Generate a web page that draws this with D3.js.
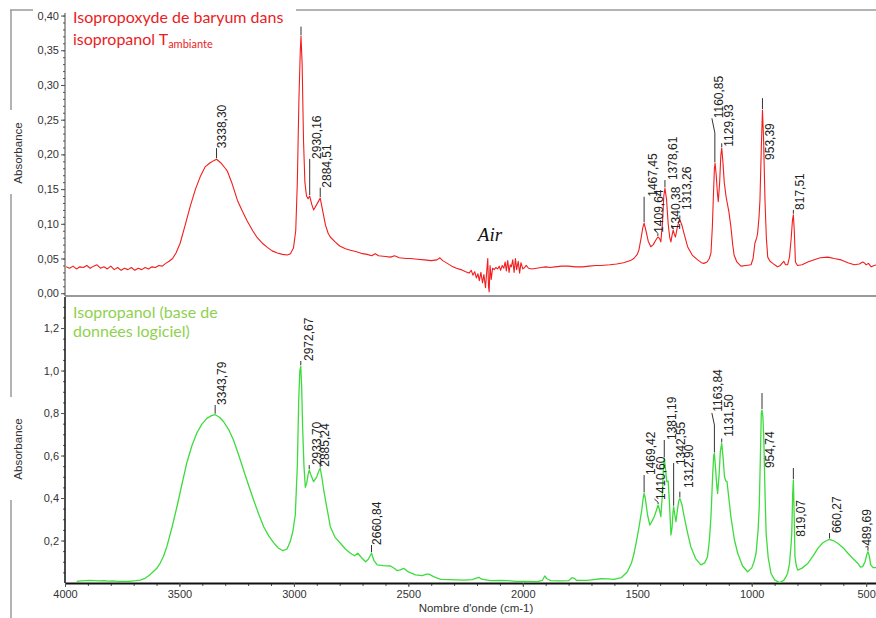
<!DOCTYPE html>
<html><head><meta charset="utf-8">
<script src="https://cdn.jsdelivr.net/npm/d3@7"></script>
<style>
html,body{margin:0;padding:0;background:#fff;}
svg{display:block;}
.tl{font-family:Arial,"Liberation Sans",sans-serif;font-size:11px;fill:#333;}
.pk{font-family:Arial,"Liberation Sans",sans-serif;font-size:12px;fill:#222;}
.ttl{font-family:Lato,"Open Sans",sans-serif;font-size:16px;}
</style></head>
<body>
<svg id="c" width="876" height="618"></svg>
<script>
// ---------- DATA ----------
const xTickValues = [4000, 3500, 3000, 2500, 2000, 1500, 1000, 500];
const topYTickValues = [0, 0.05, 0.10, 0.15, 0.20, 0.25, 0.30, 0.35, 0.40];
const bottomYTickValues = [0.2, 0.4, 0.6, 0.8, 1.0, 1.2];

// Isopropoxyde de baryum dans isopropanol (wavenumber, absorbance)
const bariumSpectrum = [
[3995,0.038],[3980,0.036],[3965,0.039],[3950,0.035],[3935,0.038],[3920,0.037],[3905,0.040],[3890,0.036],
[3875,0.039],[3860,0.041],[3845,0.036],[3830,0.038],[3815,0.035],[3800,0.039],[3785,0.034],[3770,0.037],
[3755,0.033],[3740,0.036],[3725,0.034],[3710,0.037],[3695,0.033],[3680,0.036],[3665,0.034],[3650,0.037],
[3635,0.035],[3620,0.038],[3605,0.037],[3590,0.040],[3575,0.039],[3560,0.043],[3545,0.046],[3530,0.050],
[3515,0.058],[3497,0.072],[3475,0.098],[3453,0.125],[3430,0.150],[3409,0.168],[3388,0.182],[3366,0.188],
[3350,0.191],[3338,0.193],[3320,0.188],[3300,0.180],[3291,0.176],[3270,0.158],[3247,0.134],[3225,0.118],
[3204,0.104],[3180,0.090],[3160,0.080],[3138,0.072],[3116,0.066],[3095,0.061],[3072,0.058],[3050,0.056],
[3029,0.055],[3015,0.057],[3002,0.065],[2992,0.090],[2985,0.160],[2978,0.280],[2972,0.350],[2969,0.370],
[2964,0.330],[2958,0.220],[2952,0.160],[2945,0.140],[2938,0.136],[2931,0.140],[2922,0.128],[2914,0.120],
[2900,0.128],[2885,0.137],[2875,0.120],[2862,0.098],[2850,0.086],[2841,0.081],[2820,0.074],[2800,0.068],
[2775,0.064],[2753,0.062],[2730,0.060],[2700,0.057],[2680,0.056],[2660,0.054],[2645,0.057],[2630,0.054],
[2600,0.053],[2578,0.052],[2560,0.054],[2540,0.051],[2510,0.050],[2491,0.050],[2460,0.049],[2430,0.048],
[2400,0.047],[2375,0.048],[2362,0.051],[2350,0.047],[2330,0.043],[2310,0.039],[2290,0.036],[2270,0.034],
[2250,0.031],[2235,0.029],[2225,0.033],[2218,0.026],[2210,0.031],[2203,0.022],[2196,0.028],[2190,0.018],
[2183,0.030],[2176,0.015],[2170,0.027],[2163,0.008],[2157,0.034],[2153,0.050],[2150,0.010],[2147,0.002],
[2143,0.040],[2138,0.020],[2132,0.036],[2125,0.034],[2118,0.037],[2110,0.035],[2103,0.039],[2097,0.033],
[2090,0.040],[2083,0.036],[2077,0.045],[2072,0.032],[2066,0.047],[2060,0.030],[2055,0.041],[2050,0.038],
[2044,0.048],[2038,0.030],[2032,0.050],[2027,0.034],[2020,0.046],[2014,0.029],[2008,0.044],[2000,0.035],
[1992,0.037],[1985,0.040],[1975,0.036],[1960,0.035],[1940,0.036],[1920,0.037],[1900,0.038],[1880,0.037],
[1860,0.038],[1830,0.039],[1800,0.039],[1770,0.038],[1740,0.038],[1710,0.039],[1680,0.040],[1659,0.040],
[1620,0.041],[1590,0.042],[1560,0.044],[1530,0.047],[1515,0.050],[1500,0.056],[1493,0.062],[1484,0.078],
[1476,0.094],[1470,0.101],[1462,0.090],[1452,0.075],[1441,0.067],[1430,0.070],[1420,0.076],[1410,0.081],
[1403,0.079],[1397,0.074],[1390,0.100],[1384,0.140],[1379,0.151],[1372,0.135],[1365,0.100],[1358,0.080],
[1353,0.074],[1347,0.085],[1343,0.091],[1338,0.085],[1333,0.081],[1325,0.095],[1318,0.104],[1314,0.106],
[1305,0.098],[1295,0.085],[1280,0.067],[1260,0.055],[1236,0.048],[1220,0.044],[1209,0.043],[1195,0.045],
[1185,0.050],[1178,0.058],[1172,0.095],[1168,0.134],[1163,0.180],[1160,0.187],[1155,0.170],[1150,0.145],
[1146,0.132],[1140,0.160],[1135,0.198],[1131,0.209],[1126,0.190],[1120,0.160],[1112,0.139],[1100,0.118],
[1091,0.096],[1083,0.070],[1077,0.055],[1065,0.045],[1047,0.039],[1025,0.040],[1003,0.041],[994,0.050],
[986,0.072],[978,0.080],[974,0.087],[968,0.110],[964,0.134],[958,0.210],[953,0.264],[948,0.220],
[942,0.134],[936,0.080],[930,0.052],[920,0.046],[908,0.043],[895,0.040],[887,0.038],[875,0.040],
[865,0.044],[860,0.046],[852,0.041],[843,0.041],[835,0.052],[828,0.077],[822,0.105],[818,0.113],
[814,0.090],[809,0.045],[800,0.040],[780,0.041],[755,0.045],[730,0.048],[700,0.051],[667,0.052],
[640,0.050],[609,0.048],[580,0.044],[552,0.041],[530,0.042],[515,0.045],[509,0.044],[500,0.041],
[490,0.043],[478,0.038],[465,0.040],[452,0.041]
];

// Isopropanol (base de données logiciel)
const isopropanolSpectrum = [
[3949,0.008],[3930,0.010],[3910,0.011],[3890,0.012],[3870,0.011],[3850,0.010],[3830,0.011],[3810,0.009],
[3790,0.010],[3770,0.008],[3750,0.008],[3730,0.007],[3710,0.009],[3690,0.011],[3672,0.014],[3650,0.022],
[3630,0.038],[3615,0.053],[3600,0.068],[3584,0.094],[3570,0.125],[3555,0.171],[3533,0.260],[3511,0.359],
[3490,0.460],[3468,0.565],[3446,0.645],[3424,0.706],[3402,0.748],[3380,0.775],[3360,0.788],[3344,0.792],
[3325,0.780],[3307,0.759],[3285,0.722],[3264,0.673],[3242,0.605],[3220,0.532],[3198,0.460],[3176,0.391],
[3154,0.325],[3132,0.265],[3110,0.222],[3089,0.190],[3068,0.165],[3048,0.152],[3030,0.160],[3016,0.195],
[3005,0.240],[2994,0.320],[2985,0.550],[2979,0.860],[2974,1.000],[2970,1.020],[2966,0.920],[2962,0.735],
[2956,0.550],[2950,0.450],[2944,0.470],[2938,0.510],[2933,0.532],[2926,0.510],[2914,0.477],[2900,0.500],
[2890,0.530],[2885,0.540],[2878,0.500],[2870,0.440],[2862,0.390],[2850,0.320],[2841,0.265],[2820,0.215],
[2797,0.187],[2775,0.160],[2753,0.140],[2735,0.128],[2721,0.140],[2705,0.120],[2687,0.100],[2675,0.112],
[2661,0.140],[2650,0.105],[2636,0.085],[2610,0.082],[2578,0.080],[2560,0.068],[2549,0.058],[2535,0.062],
[2520,0.069],[2500,0.052],[2469,0.038],[2440,0.035],[2420,0.042],[2410,0.042],[2390,0.030],[2359,0.017],
[2320,0.016],[2290,0.015],[2257,0.014],[2220,0.016],[2200,0.024],[2192,0.027],[2180,0.018],[2141,0.011],
[2100,0.012],[2068,0.011],[2030,0.008],[1990,0.007],[1936,0.006],[1915,0.012],[1904,0.033],[1895,0.020],
[1878,0.011],[1840,0.010],[1800,0.011],[1785,0.025],[1775,0.022],[1765,0.012],[1720,0.012],[1690,0.016],
[1659,0.020],[1630,0.019],[1602,0.017],[1570,0.025],[1543,0.053],[1525,0.095],[1514,0.140],[1503,0.200],
[1492,0.265],[1480,0.345],[1474,0.400],[1470,0.422],[1465,0.400],[1455,0.320],[1445,0.273],[1436,0.290],
[1426,0.312],[1417,0.340],[1409,0.367],[1403,0.345],[1397,0.312],[1390,0.420],[1386,0.540],[1382,0.587],
[1377,0.540],[1371,0.477],[1365,0.480],[1360,0.390],[1356,0.300],[1353,0.226],[1348,0.260],[1344,0.330],
[1341,0.359],[1336,0.320],[1331,0.289],[1325,0.340],[1319,0.385],[1314,0.398],[1305,0.370],[1295,0.312],
[1280,0.235],[1266,0.171],[1245,0.115],[1222,0.085],[1205,0.095],[1193,0.124],[1185,0.200],[1178,0.312],
[1170,0.520],[1166,0.600],[1163,0.610],[1158,0.540],[1152,0.450],[1149,0.422],[1143,0.500],[1137,0.620],
[1131,0.657],[1125,0.590],[1119,0.500],[1113,0.480],[1108,0.477],[1100,0.400],[1091,0.312],[1075,0.200],
[1061,0.140],[1040,0.080],[1018,0.053],[1000,0.070],[990,0.100],[981,0.140],[972,0.250],[967,0.359],
[962,0.600],[958,0.800],[955,0.814],[951,0.780],[947,0.673],[942,0.430],[937,0.234],[928,0.120],
[916,0.046],[900,0.015],[879,0.002],[860,0.012],[850,0.030],[843,0.046],[835,0.090],[828,0.180],
[825,0.234],[821,0.420],[818,0.485],[815,0.350],[811,0.124],[805,0.080],[799,0.061],[780,0.070],
[755,0.092],[733,0.125],[711,0.163],[690,0.188],[672,0.200],[660,0.205],[645,0.200],[624,0.187],
[600,0.165],[580,0.140],[558,0.115],[536,0.092],[525,0.075],[515,0.077],[505,0.100],[497,0.135],
[492,0.147],[487,0.130],[480,0.085],[470,0.072],[460,0.073],[452,0.070]
];

// peak annotations: label, peak wavenumber, peak absorbance, tick tip absorbance,
// label anchor wavenumber, label anchor absorbance, optional bend point [wn, abs]
const bariumPeaks = [
["3338,30",3338,0.193,0.209,3313,0.209],
["",2969,0.370,0.384,2969,0.384],
["2930,16",2931,0.140,0.1935,2899,0.1935],
["2884,51",2885,0.137,0.152,2855,0.152],
["1467,45",1470,0.101,0.139,1433,0.139],
["1409,64",1410,0.081,0.086,1407,0.087,[1425,0.092]],
["1378,61",1379,0.151,0.163,1346,0.163],
["1340,38",1343,0.091,0.094,1331,0.091,[1350,0.098]],
["1313,26",1314,0.106,0.112,1283,0.120],
["1160,85",1161,0.187,0.231,1142,0.252,[1174,0.252]],
["1129,93",1131,0.209,0.216,1102,0.211],
["953,39",953,0.264,0.281,923,0.192],
["817,51",818,0.113,0.120,789,0.120]
];
const isopropanolPeaks = [
["3343,79",3344,0.792,0.838,3314,0.838],
["2972,67",2970,1.020,1.045,2936,1.045],
["2933,70",2933,0.532,0.555,2899,0.555],
["2885,24",2885,0.540,0.570,2866,0.547],
["2660,84",2661,0.140,0.179,2636,0.179],
["1469,42",1470,0.422,0.508,1441,0.508],
["1410,60",1409,0.367,0.380,1397,0.391,[1425,0.395]],
["1381,19",1382,0.587,0.673,1350,0.673],
["1342,55",1341,0.359,0.565,1309,0.555],
["1312,90",1314,0.398,0.430,1277,0.447],
["1163,84",1163,0.610,0.744,1146,0.806,[1174,0.800]],
["1131,50",1131,0.657,0.680,1101,0.688],
["954,74",955,0.814,0.894,923,0.541],
["819,07",818,0.485,0.541,787,0.218],
["660,27",660,0.205,0.235,628,0.235],
["489,69",492,0.147,0.171,498,0.175,[503,0.170]]
];

// ---------- DRAW ----------
const svg = d3.select("#c");
const W = 876, H = 618;
const x = d3.scaleLinear().domain([4000, 457]).range([65, 876]);
const yTop = d3.scaleLinear().domain([-0.004, 0.408]).range([296, 10]);
const yBot = d3.scaleLinear().domain([0, 1.332]).range([583, 300]);
const comma = f => (d => d3.format(f)(d).replace(".", ","));

// outer bracket
const frame = svg.append("g").attr("stroke", "#9a9a9a").attr("stroke-width", 1.5).attr("fill", "none");
frame.append("line").attr("x1", 10).attr("x2", 33).attr("y1", 10).attr("y2", 10);
frame.append("line").attr("x1", 296).attr("x2", W).attr("y1", 10).attr("y2", 10);
frame.append("line").attr("x1", 11).attr("x2", 11).attr("y1", 10).attr("y2", 110);
frame.append("line").attr("x1", 11).attr("x2", 11).attr("y1", 194).attr("y2", 397);
frame.append("line").attr("x1", 11).attr("x2", 11).attr("y1", 500).attr("y2", H);

// clip
svg.append("clipPath").attr("id", "clipT").append("rect").attr("x", 65).attr("y", 0).attr("width", W - 65).attr("height", 296);
svg.append("clipPath").attr("id", "clipB").append("rect").attr("x", 65).attr("y", 298).attr("width", W - 65).attr("height", 285);

// ---- top panel axes ----
const gyT = svg.append("g").attr("transform", "translate(65,0)");
gyT.call(d3.axisLeft(yTop).tickValues(d3.range(0, 0.4001, 0.01)).tickFormat("").tickSize(2).tickSizeOuter(0));
gyT.call(g => g.select(".domain").remove());
const gyT2 = svg.append("g").attr("transform", "translate(65,0)");
gyT2.call(d3.axisLeft(yTop).tickValues(topYTickValues).tickFormat(comma(".2f")).tickSize(4).tickSizeOuter(0).tickPadding(2));
gyT2.select(".domain").attr("d", "M0,13V296").attr("stroke", "#444");
gyT2.selectAll("text").attr("class", "tl").attr("font-size", null).attr("font-family", null).attr("fill", null);
// top x axis line
svg.append("line").attr("x1", 65).attr("x2", W).attr("y1", 296).attr("y2", 296).attr("stroke", "#777").attr("stroke-width", 1.5);

// ---- bottom panel axes ----
const gyB = svg.append("g").attr("transform", "translate(65,0)");
gyB.call(d3.axisLeft(yBot).tickValues(d3.range(0.05, 1.3001, 0.05)).tickFormat("").tickSize(2).tickSizeOuter(0));
gyB.call(g => g.select(".domain").remove());
const gyB2 = svg.append("g").attr("transform", "translate(65,0)");
gyB2.call(d3.axisLeft(yBot).tickValues(bottomYTickValues).tickFormat(comma(".1f")).tickSize(4).tickSizeOuter(0).tickPadding(2));
gyB2.select(".domain").attr("d", "M0,297V583").attr("stroke", "#111").attr("stroke-width", 1.5);
gyB2.selectAll("text").attr("class", "tl").attr("font-size", null).attr("font-family", null).attr("fill", null);

const gxm = svg.append("g").attr("transform", "translate(0,583)");
gxm.call(d3.axisBottom(x).tickValues(d3.range(4000, 456, -100)).tickFormat("").tickSize(3).tickSizeOuter(0));
gxm.call(g => g.select(".domain").remove());
const gx = svg.append("g").attr("transform", "translate(0,583)");
gx.call(d3.axisBottom(x).tickValues(xTickValues).tickFormat(d3.format("d")).tickSize(4).tickSizeOuter(0).tickPadding(3));
gx.select(".domain").attr("stroke", "#111").attr("stroke-width", 2);
gx.selectAll("text").attr("class", "tl").attr("font-size", null).attr("font-family", null).attr("fill", null);
svg.selectAll("g.tick line").attr("stroke", "#555");

// axis titles
svg.append("text").attr("class", "tl").attr("text-anchor", "middle")
  .attr("transform", "translate(22,153) rotate(-90)").style("font-size", "11.5px").text("Absorbance");
svg.append("text").attr("class", "tl").attr("text-anchor", "middle")
  .attr("transform", "translate(22,449) rotate(-90)").style("font-size", "11.5px").text("Absorbance");
svg.append("text").attr("class", "tl").attr("text-anchor", "middle")
  .attr("x", 476).attr("y", 612).style("font-size", "11.5px").text("Nombre d'onde (cm-1)");

// ---- spectra ----
const lineT = d3.line().x(d => x(d[0])).y(d => yTop(d[1]));
const lineB = d3.line().x(d => x(d[0])).y(d => yBot(d[1]));
svg.append("path").attr("clip-path", "url(#clipT)").attr("d", lineT(bariumSpectrum))
  .attr("fill", "none").attr("stroke", "#f21d1d").attr("stroke-width", 1.1).attr("stroke-linejoin", "round");
svg.append("path").attr("clip-path", "url(#clipB)").attr("d", lineB(isopropanolSpectrum))
  .attr("fill", "none").attr("stroke", "#3ddc3d").attr("stroke-width", 1.3).attr("stroke-linejoin", "round");

// ---- peak annotations ----
function peaks(list, y) {
  const g = svg.append("g");
  list.forEach(p => {
    const [lab, wn, a, tip, lwn, la, bend] = p;
    const pts = [[x(wn), y(a) - 1], [x(wn), y(tip)]];
    if (bend) pts.push([x(bend[0]), y(bend[1])]);
    g.append("path").attr("d", d3.line()(pts)).attr("fill", "none").attr("stroke", "#333").attr("stroke-width", 1);
    if (lab) g.append("text").attr("class", "pk")
      .attr("transform", `translate(${x(lwn)},${y(la)}) rotate(-90)`)
      .attr("dy", "0.35em").text(lab);
  });
}
peaks(bariumPeaks, yTop);
peaks(isopropanolPeaks, yBot);

// Air label
svg.append("text").attr("x", 490).attr("y", 241).attr("text-anchor", "middle")
  .style("font-family", "'Liberation Serif','DejaVu Serif',serif").style("font-style", "italic")
  .style("font-size", "19px").attr("fill", "#111").text("Air");

// ---- titles ----
const t1 = svg.append("text").attr("class", "ttl").attr("fill", "#ea1c24").attr("x", 73).attr("y", 23);
t1.text("Isopropoxyde de baryum dans");
const t2 = svg.append("text").attr("class", "ttl").attr("fill", "#ea1c24").attr("x", 73).attr("y", 45);
t2.append("tspan").text("isopropanol T");
t2.append("tspan").attr("dy", 3).style("font-size", "11px").text("ambiante");
svg.append("text").attr("class", "ttl").attr("fill", "#8fd14f").attr("x", 73).attr("y", 318).text("Isopropanol (base de");
svg.append("text").attr("class", "ttl").attr("fill", "#8fd14f").attr("x", 73).attr("y", 337).text("données logiciel)");
</script>
</body></html>
